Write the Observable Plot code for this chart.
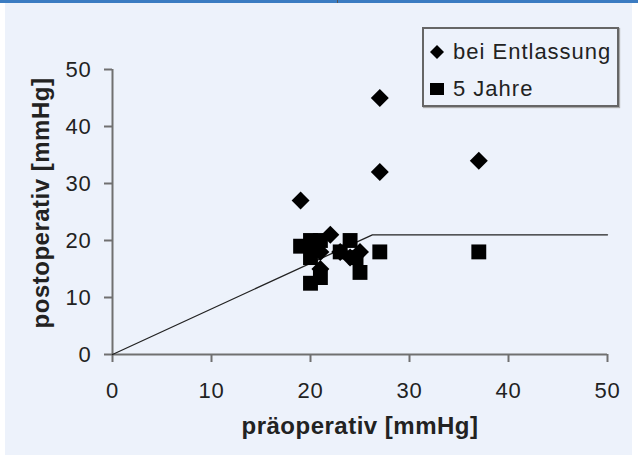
<!DOCTYPE html>
<html>
<head>
<meta charset="utf-8">
<script src="https://cdn.jsdelivr.net/npm/d3@7"></script>
<script src="https://cdn.jsdelivr.net/npm/@observablehq/plot@0.6"></script>
<style>
  body { margin: 0; background: #ffffff; }
  #wrap { position: relative; width: 638px; height: 458px; overflow: hidden; font-family: "Liberation Sans", Arial, sans-serif; }
  #topline { position: absolute; left: 0; top: 0; width: 638px; height: 3px; background: #3b7cc2; }
  #topmark { position: absolute; left: 337px; top: 0; width: 1px; height: 5px; background: #555; }
  #panel { position: absolute; left: 5px; top: 3px; width: 627px; height: 452px; background: #edf2fb; }
  #chart { position: absolute; left: 0; top: 0; }
  #chart [aria-label$="tick label"] text { letter-spacing: 0.8px; }
  #chart .title text { letter-spacing: 0.5px; }
  #legend { position: absolute; left: 422px; top: 27px; width: 193px; height: 76px; border: 2px solid #666;
            box-shadow: 1px 1px 1px #aaa; color: #222; font-size: 22px; letter-spacing: 1px; }
  .entry { position: absolute; left: 0; height: 26px; line-height: 26px; white-space: nowrap; }
  .entry svg { position: absolute; left: 6px; top: 6px; }
  .entry span { position: absolute; left: 29px; top: 0; }
</style>
</head>
<body>
<div id="wrap">
  <div id="topline"></div>
  <div id="topmark"></div>
  <div id="panel"></div>
  <div id="chart"></div>
  <div id="legend"></div>
</div>
<script>
// ---- data ----
const seriesNames = ["bei Entlassung", "5 Jahre"];
const entlassungPre  = [19, 27, 27, 37, 22, 20, 21, 23, 24, 25, 21];
const entlassungPost = [27, 45, 32, 34, 21, 19, 18, 18, 17, 18, 15];
const jahrePre  = [19, 20, 21, 20, 20, 21, 24, 23, 24.6, 25, 27, 37];
const jahrePost = [19, 20, 20, 17, 12.5, 13.5, 20, 18, 17, 14.4, 18, 18];
const refPre  = [0, 26.25, 50];
const refPost = [0, 21, 21];
const xTicks = [0, 10, 20, 30, 40, 50];
const yTicks = [0, 10, 20, 30, 40, 50];
const xTitle = "präoperativ [mmHg]";
const yTitle = "postoperativ [mmHg]";

const entlassung = entlassungPre.map((x, i) => ({x, y: entlassungPost[i]}));
const jahre = jahrePre.map((x, i) => ({x, y: jahrePost[i]}));
const ref = refPre.map((x, i) => ({x, y: refPost[i]}));

const axisColor = "#707070";
const chart = Plot.plot({
  width: 638,
  height: 458,
  marginLeft: 112,
  marginRight: 31,
  marginTop: 69,
  marginBottom: 104,
  style: { background: "transparent", fontFamily: "'Liberation Sans', Arial, sans-serif", fontSize: "22px", color: "#222", overflow: "visible" },
  x: { domain: [0, 50] },
  y: { domain: [0, 50] },
  marks: [
    Plot.axisX({ ticks: xTicks, tickSize: 8, tickPadding: 20, stroke: axisColor, strokeWidth: 2, label: null, fill: "#222" }),
    Plot.axisY({ ticks: yTicks, tickSize: 8, tickPadding: 13, stroke: axisColor, strokeWidth: 2, label: null, fill: "#222" }),
    Plot.ruleY([0], { stroke: axisColor, strokeWidth: 2 }),
    Plot.ruleX([0], { stroke: axisColor, strokeWidth: 2 }),
    Plot.line(ref, { x: "x", y: "y", stroke: "#222", strokeWidth: 1.3 }),
    Plot.dot(jahre, { x: "x", y: "y", symbol: "square", r: 8.4, fill: "#000", stroke: "none" }),
    Plot.dot(entlassung, { x: "x", y: "y", symbol: "diamond2", r: 8.1, fill: "#000", stroke: "none" }),
    Plot.text([xTitle], { frameAnchor: "bottom", lineAnchor: "bottom", textAnchor: "middle", dy: 79, fontWeight: "bold", fontSize: 24, fill: "#222", className: "title" }),
    Plot.text([yTitle], { frameAnchor: "left", lineAnchor: "bottom", textAnchor: "middle", rotate: -90, dx: -64, dy: -9, fontWeight: "bold", fontSize: 24, fill: "#222", className: "title" })
  ]
});
document.getElementById("chart").appendChild(chart);

// legend
const legend = document.getElementById("legend");
const sym = [
  '<svg width="14" height="14"><path d="M7,0L14,7L7,14L0,7Z" fill="#000"/></svg>',
  '<svg width="14" height="14"><rect x="0" y="1" width="14" height="12" fill="#000"/></svg>'
];
seriesNames.forEach((name, i) => {
  const d = document.createElement("div");
  d.className = "entry";
  d.style.top = (10 + i * 37) + "px";
  d.innerHTML = sym[i] + "<span>" + name + "</span>";
  legend.appendChild(d);
});
</script>
</body>
</html>
